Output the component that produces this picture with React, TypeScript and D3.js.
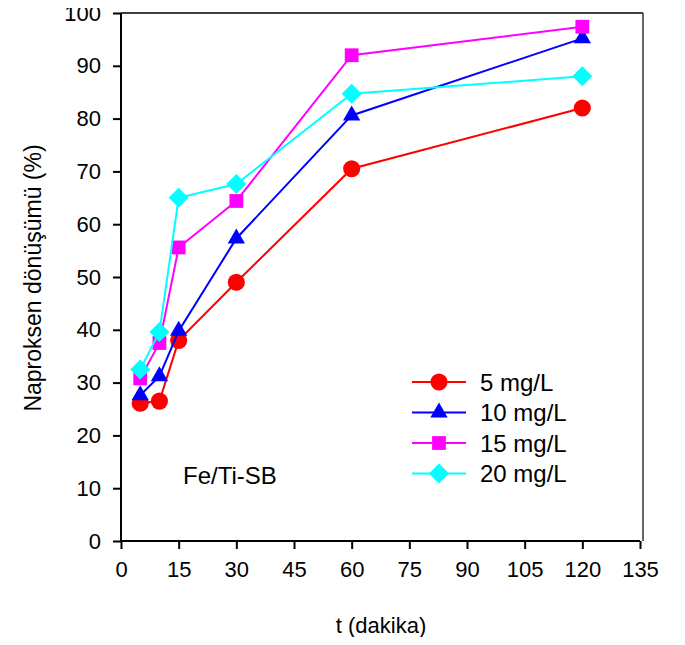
import React, { useEffect, useRef } from "react";
import * as d3 from "d3";

// time points (dakika)
const times = [5, 10, 15, 30, 60, 120];

// naproxen conversion (%) per initial concentration
const conc5 = [26.1, 26.5, 38.0, 49.0, 70.5, 82.0];
const conc10 = [27.6, 31.2, 39.8, 57.3, 80.6, 95.2];
const conc15 = [30.8, 37.5, 55.6, 64.4, 92.0, 97.4];
const conc20 = [32.5, 39.6, 65.0, 67.6, 84.7, 88.0];

const seriesNames = ["5 mg/L", "10 mg/L", "15 mg/L", "20 mg/L"];
const xTicks = [0, 15, 30, 45, 60, 75, 90, 105, 120, 135];
const yTicks = [0, 10, 20, 30, 40, 50, 60, 70, 80, 90, 100];

const W = 685;
const H = 645;
const FONT = "'Liberation Sans', Arial, sans-serif";

export default function App() {
  const ref = useRef<SVGSVGElement>(null);

  useEffect(() => {
    if (!ref.current) return;
    const svg = d3.select(ref.current);
    svg.selectAll("*").remove();

    const x = d3.scaleLinear().domain([0, 135]).range([121, 640]);
    const y = d3.scaleLinear().domain([0, 100]).range([541, 13]);

    const series = [
      { name: seriesNames[0], values: conc5, color: "#ff0000", shape: "circle" },
      { name: seriesNames[1], values: conc10, color: "#0000ff", shape: "triangle" },
      { name: seriesNames[2], values: conc15, color: "#ff00ff", shape: "square" },
      { name: seriesNames[3], values: conc20, color: "#00ffff", shape: "diamond" },
    ];

    const symbolPath = (shape: string) => {
      if (shape === "circle") return d3.symbol(d3.symbolCircle, 230)();
      if (shape === "triangle") return d3.symbol(d3.symbolTriangle, 130)();
      if (shape === "square") return d3.symbol(d3.symbolSquare, 190)();
      // diamond: rotated square
      return d3.symbol(d3.symbolSquare, 200)();
    };
    const symbolRot = (shape: string) => (shape === "diamond" ? " rotate(45)" : "");

    // frame (top and right)
    svg.append("line").attr("x1", x(0)).attr("x2", x(135) + 3).attr("y1", y(100)).attr("y2", y(100))
      .attr("stroke", "#000").attr("stroke-width", 1.5);
    svg.append("line").attr("x1", x(135) + 3).attr("x2", x(135) + 3).attr("y1", y(100)).attr("y2", y(0))
      .attr("stroke", "#333").attr("stroke-width", 1.5);

    // axes
    const gx = svg.append("g").attr("transform", `translate(0,${y(0)})`)
      .call(d3.axisBottom(x).tickValues(xTicks).tickSize(8).tickPadding(12));
    const gy = svg.append("g").attr("transform", `translate(${x(0)},0)`)
      .call(d3.axisLeft(y).tickValues(yTicks).tickSize(8).tickPadding(12));
    [gx, gy].forEach((g) => {
      g.select(".domain").attr("stroke", "#000").attr("stroke-width", 2);
      g.selectAll(".tick line").attr("stroke", "#000").attr("stroke-width", 2);
      g.selectAll(".tick text").attr("fill", "#000").attr("font-size", 22).attr("font-family", FONT);
    });
    gx.select(".domain").attr("d", `M${x(0)},0H${x(135)}`);
    gy.select(".domain").attr("d", `M0,${y(0)}V${y(100)}`);

    // axis titles
    svg.append("text").attr("x", 381).attr("y", 633).attr("text-anchor", "middle")
      .attr("font-size", 22).attr("font-family", FONT).text("t (dakika)");
    svg.append("text").attr("transform", "translate(41,278) rotate(-90)").attr("text-anchor", "middle")
      .attr("font-size", 23).attr("font-family", FONT).text("Naproksen dönüşümü (%)");

    // lines + markers
    const line = d3.line<number>().x((_, i) => x(times[i])).y((d) => y(d));
    series.forEach((s) => {
      svg.append("path").attr("d", line(s.values)).attr("fill", "none")
        .attr("stroke", s.color).attr("stroke-width", 2);
      svg.selectAll(null).data(s.values).enter().append("path")
        .attr("d", symbolPath(s.shape))
        .attr("transform", (d, i) => `translate(${x(times[i])},${y(d)})${symbolRot(s.shape)}`)
        .attr("fill", s.color);
    });

    // legend
    const lg = svg.append("g");
    series.forEach((s, i) => {
      const ly = 382 + i * 30.5;
      lg.append("line").attr("x1", 412).attr("x2", 466).attr("y1", ly).attr("y2", ly)
        .attr("stroke", s.color).attr("stroke-width", 2);
      lg.append("path").attr("d", symbolPath(s.shape))
        .attr("transform", `translate(439,${ly})${symbolRot(s.shape)}`).attr("fill", s.color);
      lg.append("text").attr("x", 480).attr("y", ly).attr("dy", "0.36em")
        .attr("font-size", 24).attr("font-family", FONT).text(s.name);
    });

    // annotation
    svg.append("text").attr("x", 183).attr("y", 484).attr("font-size", 24)
      .attr("font-family", FONT).text("Fe/Ti-SB");
  }, []);

  return <svg ref={ref} width={W} height={H} style={{ display: "block", margin: "-8px", background: "#fff" }} />;
}
